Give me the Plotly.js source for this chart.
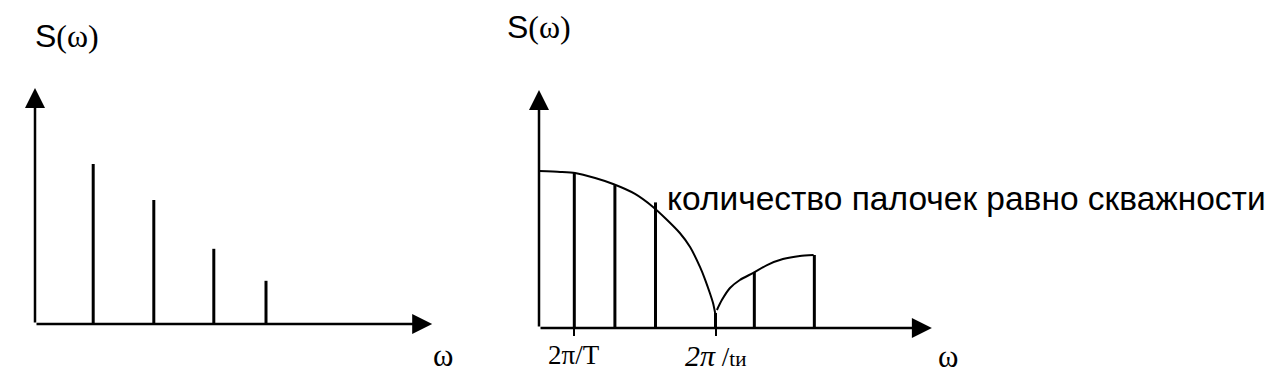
<!DOCTYPE html>
<html>
<head>
<meta charset="utf-8">
<script src="https://cdn.plot.ly/plotly-3.0.1.min.js"></script>
<style>html,body{margin:0;padding:0;background:#fff;}#chart{width:1272px;height:373px;}</style>
</head>
<body>
<div id="chart"></div>
<script>
// Left panel: spectral lines (harmonic positions, amplitudes)
const leftFreq = [0.97, 1.98, 2.98, 3.85];
const leftAmp  = [1.0, 0.775, 0.47, 0.27];

// Right panel: spectral envelope, main lobe and first side lobe (x in units of 2π/T)
const lobe1Freq = [0, 0.6, 1.02, 1.59, 2.1, 2.72, 3.23, 3.63, 3.99, 4.28, 4.56, 4.70, 4.84, 4.93, 4.99];
const lobe1Amp  = [1.0, 0.994, 0.987, 0.955, 0.917, 0.854, 0.771, 0.688, 0.605, 0.516, 0.389, 0.312, 0.223, 0.159, 0.096];
const lobe2Freq = [5.04, 5.18, 5.41, 5.69, 6.06, 6.46, 6.91, 7.39, 7.78];
const lobe2Amp  = [0.115, 0.178, 0.255, 0.306, 0.350, 0.401, 0.439, 0.459, 0.465];
// Spectral lines under the envelope
const rightFreq = [1.0, 2.15, 3.3, 5.0, 6.1, 7.8];
const rightAmp  = [0.987, 0.91, 0.80, 0.096, 0.357, 0.465];

const tickVals = [1, 5];
const tickText = ['2π/T', '<i style="font-size:30px">2π</i> /<span style="font-size:21px">tи</span>'];

const annotationText = 'количество палочек равно скважности';
const yLabel = '<span style="font-family:Liberation Sans,Arial">S</span>(ω)';
const xLabel = 'ω';

function stems(xs, ys) {
  const X = [], Y = [];
  xs.forEach((x, i) => { X.push(x, x, null); Y.push(0, ys[i], null); });
  return {X, Y};
}

const L = stems(leftFreq, leftAmp);
const R = stems(rightFreq, rightAmp);

const W = 1272, H = 373;
const px = v => v / W, py = v => 1 - v / H;

const envLine = {color: '#000', width: 2, shape: 'spline', smoothing: 0.6};
const data = [
  {x: L.X, y: L.Y, xaxis: 'x', yaxis: 'y', mode: 'lines', line: {color: '#000', width: 3}, hoverinfo: 'skip'},
  {x: lobe1Freq, y: lobe1Amp, xaxis: 'x2', yaxis: 'y2', mode: 'lines', line: envLine, hoverinfo: 'skip'},
  {x: lobe2Freq, y: lobe2Amp, xaxis: 'x2', yaxis: 'y2', mode: 'lines', line: envLine, hoverinfo: 'skip'},
  {x: R.X, y: R.Y, xaxis: 'x2', yaxis: 'y2', mode: 'lines', line: {color: '#000', width: 3}, hoverinfo: 'skip'}
];

const hidden = {showgrid: false, zeroline: false, showline: false, showticklabels: false, ticks: '', fixedrange: true};

function axisArrow(xref, yref, x, y) {
  return {xref: xref, yref: yref, axref: xref, ayref: yref, x: x, y: y, ax: 0, ay: 0,
          text: '', showarrow: true, arrowhead: 2, arrowsize: 1.6, arrowwidth: 2.5, arrowcolor: '#000'};
}

const serif = 'Liberation Serif, Times New Roman, serif';

const tickLabels = tickVals.map((v, i) => ({
  xref: 'x2', yref: 'paper', x: v, y: py(355), xanchor: 'center', yanchor: 'middle',
  text: tickText[i], showarrow: false, font: {size: 27, family: serif, color: '#000'}
}));

const layout = {
  width: W, height: H,
  margin: {l: 0, r: 0, t: 0, b: 0},
  paper_bgcolor: '#fff', plot_bgcolor: 'rgba(0,0,0,0)',
  showlegend: false,
  font: {family: serif, color: '#000'},
  xaxis: Object.assign({}, hidden, {domain: [px(35), px(450)], range: [0, 415/60], anchor: 'y'}),
  yaxis: Object.assign({}, hidden, {domain: [py(324), py(80)], range: [0, 244/160], anchor: 'x'}),
  xaxis2: Object.assign({}, hidden, {domain: [px(539), px(950)], range: [0, 411/35.3], anchor: 'y2',
      ticks: 'outside', ticklen: 7, tickwidth: 2, tickcolor: '#000',
      tickmode: 'array', tickvals: tickVals}),
  yaxis2: Object.assign({}, hidden, {domain: [py(328), py(80)], range: [0, 248/157], anchor: 'x2'}),
  annotations: [
    axisArrow('x', 'y', 6.62, 0),
    axisArrow('x', 'y', 0, 1.475),
    axisArrow('x2', 'y2', 11.13, 0),
    axisArrow('x2', 'y2', 0, 1.516),
    {xref: 'paper', yref: 'paper', x: px(33), y: py(36), xanchor: 'left', yanchor: 'middle',
     text: yLabel, showarrow: false, font: {size: 32, family: serif}},
    {xref: 'paper', yref: 'paper', x: px(505), y: py(27), xanchor: 'left', yanchor: 'middle',
     text: yLabel, showarrow: false, font: {size: 32, family: serif}},
    {xref: 'paper', yref: 'paper', x: px(443), y: py(355), xanchor: 'center', yanchor: 'middle',
     text: xLabel, showarrow: false, font: {size: 31, family: serif}},
    {xref: 'paper', yref: 'paper', x: px(948), y: py(356), xanchor: 'center', yanchor: 'middle',
     text: xLabel, showarrow: false, font: {size: 31, family: serif}},
    {xref: 'x2', yref: 'y2', x: (665-539)/35.3, y: (328-198)/157, xanchor: 'left', yanchor: 'middle',
     text: annotationText, showarrow: false,
     font: {size: 33.5, family: 'Liberation Sans, Arial, sans-serif', color: '#000'}}
  ].concat(tickLabels)
};

Plotly.newPlot('chart', data, layout, {staticPlot: true, displayModeBar: false});
</script>
</body>
</html>
